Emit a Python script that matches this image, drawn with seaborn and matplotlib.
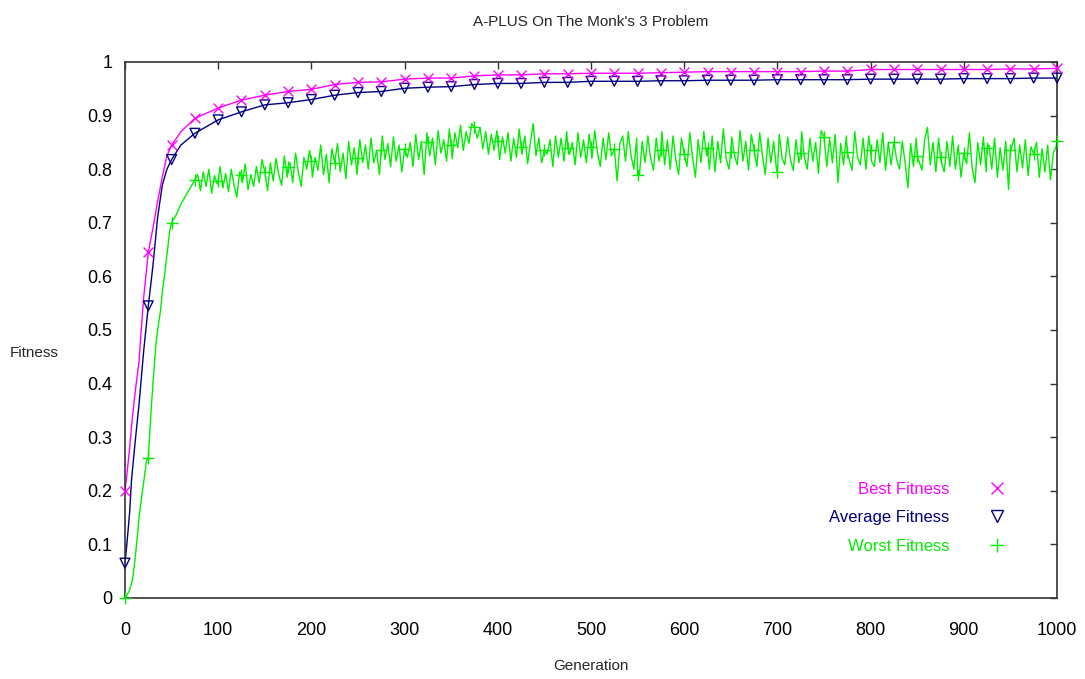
import numpy as np
import pandas as pd
import matplotlib
matplotlib.use("Agg")
import matplotlib.pyplot as plt
from matplotlib.lines import Line2D
import seaborn as sns

gen_ba = [0, 2, 5, 7, 10, 12, 15, 17, 20, 25, 30, 35, 40, 45, 50, 60, 75,
          100, 125, 150, 175, 200, 225, 250, 275, 300, 325, 350, 375, 400,
          425, 450, 475, 500, 525, 550, 575, 600, 625, 650, 675, 700, 725,
          750, 775, 800, 825, 850, 875, 900, 925, 950, 975, 1000]
best = [0.20, 0.23, 0.28, 0.32, 0.37, 0.40, 0.44, 0.49, 0.56, 0.645, 0.69,
        0.74, 0.785, 0.825, 0.845, 0.87, 0.895, 0.914, 0.929, 0.938, 0.945,
        0.949, 0.958, 0.962, 0.963, 0.968, 0.970, 0.970, 0.974, 0.976, 0.976,
        0.978, 0.978, 0.979, 0.979, 0.979, 0.980, 0.981, 0.982, 0.982, 0.982,
        0.982, 0.982, 0.983, 0.983, 0.986, 0.986, 0.986, 0.986, 0.986, 0.986,
        0.987, 0.987, 0.988]
average = [0.065, 0.10, 0.16, 0.22, 0.275, 0.31, 0.36, 0.40, 0.46, 0.545,
           0.62, 0.71, 0.77, 0.80, 0.818, 0.845, 0.867, 0.892, 0.907, 0.920,
           0.924, 0.930, 0.938, 0.943, 0.945, 0.951, 0.953, 0.954, 0.958,
           0.960, 0.960, 0.962, 0.962, 0.964, 0.964, 0.964, 0.965, 0.965,
           0.966, 0.966, 0.966, 0.967, 0.967, 0.967, 0.967, 0.968, 0.968,
           0.968, 0.968, 0.969, 0.969, 0.969, 0.970, 0.970]

# worst fitness: early rise
gen_w_early = [0, 2, 5, 8, 10, 13, 15, 18, 20, 23, 25, 28, 30, 33, 35, 38,
               40, 43, 45, 48, 50, 55, 60, 65, 70, 75]
worst_early = [0.0, 0.005, 0.015, 0.034, 0.06, 0.11, 0.15, 0.19, 0.215,
               0.255, 0.262, 0.35, 0.40, 0.47, 0.50, 0.535, 0.57, 0.61, 0.64,
               0.685, 0.70, 0.715, 0.735, 0.75, 0.765, 0.78]
# worst fitness, every 3 generations from 78 to 999
worst_late = [
    0.790, 0.760, 0.795, 0.768, 0.800, 0.755, 0.788, 0.772, 0.805, 0.765,
    0.792, 0.758, 0.800, 0.770, 0.748, 0.795, 0.775, 0.810, 0.762, 0.790,
    0.768, 0.805, 0.775, 0.818, 0.785, 0.760, 0.812, 0.778, 0.820, 0.790,
    0.770, 0.825, 0.785, 0.812, 0.775, 0.830, 0.795, 0.768, 0.822, 0.800,
    0.835, 0.785, 0.822, 0.798, 0.845, 0.790, 0.828, 0.775, 0.838, 0.805,
    0.848, 0.795, 0.830, 0.782, 0.852, 0.808, 0.840, 0.790, 0.855, 0.812,
    0.845, 0.800, 0.858, 0.812, 0.835, 0.790, 0.862, 0.818, 0.848, 0.805,
    0.860, 0.815, 0.845, 0.795, 0.870, 0.822, 0.850, 0.805, 0.865, 0.818,
    0.852, 0.790, 0.868, 0.825, 0.858, 0.808, 0.872, 0.830, 0.855, 0.815,
    0.875, 0.820, 0.868, 0.840, 0.882, 0.835, 0.870, 0.848, 0.885, 0.888,
    0.858, 0.878, 0.838, 0.870, 0.828, 0.865, 0.835, 0.872, 0.818, 0.860,
    0.830, 0.868, 0.815, 0.858, 0.822, 0.875, 0.828, 0.862, 0.810, 0.850,
    0.885, 0.825, 0.858, 0.812, 0.865, 0.828, 0.855, 0.805, 0.862, 0.822,
    0.858, 0.815, 0.870, 0.828, 0.850, 0.808, 0.868, 0.822, 0.855, 0.812,
    0.865, 0.820, 0.872, 0.830, 0.805, 0.858, 0.818, 0.868, 0.825, 0.852,
    0.778, 0.848, 0.862, 0.815, 0.870, 0.825, 0.800, 0.858, 0.790, 0.852,
    0.812, 0.862, 0.820, 0.798, 0.858, 0.815, 0.870, 0.808, 0.855, 0.800,
    0.862, 0.818, 0.790, 0.858, 0.825, 0.805, 0.868, 0.822, 0.785, 0.855,
    0.812, 0.870, 0.825, 0.800, 0.862, 0.795, 0.852, 0.812, 0.875, 0.820,
    0.800, 0.860, 0.825, 0.808, 0.872, 0.815, 0.852, 0.798, 0.865, 0.818,
    0.805, 0.868, 0.825, 0.790, 0.858, 0.812, 0.852, 0.800, 0.865, 0.820,
    0.808, 0.860, 0.818, 0.798, 0.855, 0.812, 0.870, 0.822, 0.800, 0.858,
    0.815, 0.850, 0.792, 0.872, 0.820, 0.805, 0.858, 0.812, 0.865, 0.775,
    0.848, 0.808, 0.862, 0.818, 0.798, 0.870, 0.822, 0.808, 0.858, 0.800,
    0.862, 0.815, 0.805, 0.855, 0.812, 0.868, 0.798, 0.850, 0.808, 0.860,
    0.818, 0.800, 0.852, 0.812, 0.765, 0.848, 0.805, 0.858, 0.815, 0.798,
    0.855, 0.878, 0.808, 0.850, 0.795, 0.858, 0.812, 0.795, 0.852, 0.805,
    0.862, 0.800, 0.845, 0.785, 0.855, 0.810, 0.868, 0.802, 0.775, 0.850,
    0.808, 0.860, 0.795, 0.845, 0.800, 0.858, 0.785, 0.840, 0.798, 0.852,
    0.762, 0.838, 0.858, 0.795, 0.845, 0.802, 0.855, 0.788, 0.842, 0.798,
    0.850, 0.785, 0.838, 0.795, 0.845, 0.780, 0.830, 0.842]
gen_w_late = list(range(78, 1001, 3))
# worst fitness at the "+" symbols, every 25 generations from 100
gen_w_pts = list(range(100, 1001, 25))
worst_pts = [0.778, 0.790, 0.795, 0.805, 0.815, 0.812, 0.820, 0.835, 0.838,
             0.850, 0.845, 0.878, 0.852, 0.842, 0.835, 0.840, 0.842, 0.838,
             0.790, 0.835, 0.828, 0.840, 0.832, 0.835, 0.795, 0.830, 0.860,
             0.832, 0.835, 0.850, 0.825, 0.822, 0.830, 0.840, 0.835, 0.828,
             0.852]

C_BEST = "#ff00ff"
C_AVG = "#000080"
C_WORST = "#00ee00"

sns.set_style("white")
plt.rcParams["font.family"] = ["Liberation Sans", "DejaVu Sans"]

df_ba = pd.DataFrame({"gen": gen_ba, "best": best, "avg": average})
df_w = pd.concat([
    pd.DataFrame({"gen": gen_w_early, "worst": worst_early}),
    pd.DataFrame({"gen": gen_w_late, "worst": worst_late}),
    pd.DataFrame({"gen": gen_w_pts, "worst": worst_pts}),
])
df_w = df_w.drop_duplicates("gen", keep="last").sort_values("gen")

fig = plt.figure(figsize=(10.85, 6.79), dpi=100)
ax = fig.add_axes([0.1152, 0.1193, 0.859, 0.7894])

sns.lineplot(data=df_w, x="gen", y="worst", color=C_WORST, lw=1.0, ax=ax)
sns.lineplot(data=df_ba, x="gen", y="avg", color=C_AVG, lw=1.0, ax=ax)
sns.lineplot(data=df_ba, x="gen", y="best", color=C_BEST, lw=1.0, ax=ax)

# point symbols every 25 generations
mk_ba = df_ba[df_ba["gen"] % 25 == 0]
mk_w = df_w[df_w["gen"] % 25 == 0]
ax.scatter(mk_w["gen"], mk_w["worst"], marker="+", s=70, color=C_WORST, lw=1,
           zorder=3, clip_on=False)
ax.scatter(mk_ba["gen"], mk_ba["avg"], marker="v", s=50, facecolors="none",
           edgecolors=C_AVG, lw=1, zorder=3, clip_on=False)
ax.scatter(mk_ba["gen"], mk_ba["best"], marker="x", s=50, color=C_BEST, lw=1,
           zorder=3, clip_on=False)

ax.set_xlim(0, 1000)
ax.set_ylim(0, 1)
ax.set_xticks(range(0, 1001, 100))
ax.set_yticks(np.arange(0, 1.01, 0.1))
ax.set_yticklabels(["0", "0.1", "0.2", "0.3", "0.4", "0.5", "0.6", "0.7", "0.8", "0.9", "1"])
ax.tick_params(direction="in", length=5, width=1, top=True, right=True,
               labelsize=13, pad=9, colors="#333333", labelcolor="black")
ax.tick_params(axis="x", pad=17)
for sp in ax.spines.values():
    sp.set_color("#333333")
    sp.set_linewidth(1.2)

ax.set_xlabel("Generation", fontsize=11, labelpad=15)
ax.set_ylabel("Fitness", fontsize=11, rotation=0, ha="center", va="center")
ax.yaxis.set_label_coords(-0.097, 0.457)
ax.set_title("A-PLUS On The Monk's 3 Problem", fontsize=11, pad=26)

handles = [
    Line2D([], [], ls="none", marker="x", ms=8, color=C_BEST),
    Line2D([], [], ls="none", marker="v", ms=8, mfc="none", mec=C_AVG),
    Line2D([], [], ls="none", marker="+", ms=10, color=C_WORST),
]
leg = ax.legend(handles, ["Best Fitness", "Average Fitness", "Worst Fitness"],
                loc="lower right", bbox_to_anchor=(0.97, 0.055), markerfirst=False,
                frameon=False, fontsize=12, labelcolor=[C_BEST, C_AVG, C_WORST],
                handletextpad=1.9, labelspacing=0.8)
for t in leg.get_texts():
    t.set_ha("right")
leg._legend_box.align = "right"

fig.savefig("out.png", dpi=100)
